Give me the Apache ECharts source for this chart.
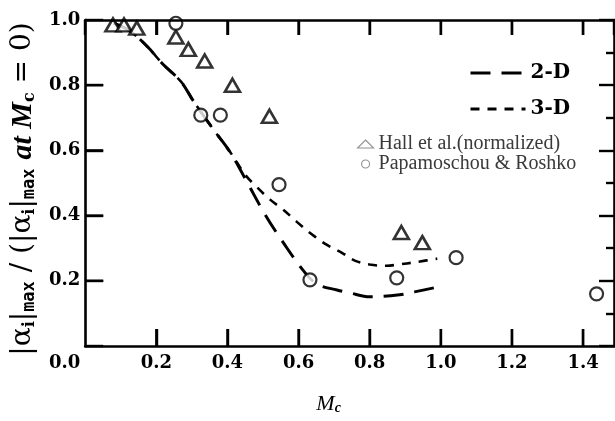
<!DOCTYPE html>
<html><head><meta charset="utf-8">
<script src="https://cdn.jsdelivr.net/npm/echarts@6/dist/echarts.min.js"></script>
<style>html,body{margin:0;padding:0;background:#fff}#c{width:615px;height:421px}</style>
</head><body><div id="c"></div>
<script>
// ---- data ----
const xTicks = [0.2, 0.4, 0.6, 0.8, 1.0, 1.2, 1.4];
const yTicks = [0.2, 0.4, 0.6, 0.8];
const curve2D_M = [0.08, 0.126, 0.176, 0.218, 0.27, 0.305, 0.36, 0.408, 0.456, 0.506, 0.557, 0.618, 0.655, 0.708, 0.744, 0.80, 0.884, 0.926, 0.996];
const curve2D_v = [0.99, 0.966, 0.917, 0.865, 0.81, 0.75, 0.665, 0.594, 0.501, 0.403, 0.317, 0.225, 0.188, 0.172, 0.163, 0.151, 0.157, 0.166, 0.182];
const curve3D_M = [0.08, 0.126, 0.176, 0.218, 0.27, 0.305, 0.36, 0.408, 0.45, 0.484, 0.52, 0.557, 0.596, 0.638, 0.68, 0.722, 0.758, 0.80, 0.848, 0.875, 0.934, 0.99];
const curve3D_v = [0.99, 0.966, 0.917, 0.865, 0.81, 0.75, 0.665, 0.594, 0.525, 0.486, 0.449, 0.418, 0.38, 0.342, 0.31, 0.286, 0.262, 0.25, 0.246, 0.249, 0.258, 0.268];
const hall_M = [0.078, 0.109, 0.145, 0.255, 0.29, 0.336, 0.414, 0.518, 0.889, 0.948];
const hall_v = [0.985, 0.985, 0.975, 0.948, 0.91, 0.874, 0.80, 0.705, 0.348, 0.317];
const pr_M = [0.255, 0.325, 0.38, 0.545, 0.632, 0.876, 1.043, 1.438];
const pr_v = [0.99, 0.708, 0.708, 0.495, 0.203, 0.209, 0.271, 0.16];

const zip = (a, b) => a.map((v, i) => [v, b[i]]);
const chart = echarts.init(document.getElementById('c'), null, {renderer: 'canvas'});
const labelFont = {fontFamily: 'DejaVu Serif', fontWeight: 'bold', fontSize: 18, color: '#000'};
const axisLine = {show: true, onZero: false, lineStyle: {color: '#000', width: 2.6}};
const X_MAX = 1.487;
const Y_MAX = 1.0;
const dash2D = [20, 11];
const dash3D = [9, 8];

const option = {
  backgroundColor: '#fff',
  animation: false,
  color: ['#000', '#000', '#000', '#000'],
  grid: {left: 84, right: 1, top: 20, bottom: 75, containLabel: false},
  legend: [
    {
      data: [
        {name: '2-D', lineStyle: {type: dash2D, width: 3, color: '#000'}},
        {name: '3-D', lineStyle: {type: dash3D, width: 2.8, color: '#000'}}
      ],
      orient: 'vertical', left: 464, top: 58,
      itemWidth: 55, itemHeight: 18, itemGap: 16,
      itemStyle: {color: 'rgba(0,0,0,0)', borderWidth: 0, opacity: 0},
      textStyle: Object.assign({}, labelFont, {fontSize: 20})
    },
    {
      data: ['Hall et al.(normalized)', 'Papamoschou & Roshko'], orient: 'vertical', left: 352, top: 129,
      itemWidth: 16, itemHeight: 8, itemGap: 0,
      itemStyle: {borderColor: '#777', borderWidth: 1.1},
      textStyle: {fontFamily: 'Liberation Serif', fontSize: 20, color: '#3a3a3a', lineHeight: 19}
    }
  ],
  xAxis: [
    {
      type: 'value', min: 0, max: X_MAX, interval: 0.2, position: 'bottom', z: 10,
      axisLine: axisLine,
      axisTick: {show: true, inside: true, length: 17, lineStyle: {color: '#000', width: 2.4}},
      splitLine: {show: false},
      axisLabel: {show: true, margin: 8, showMaxLabel: false, showMinLabel: false,
        formatter: v => v.toFixed(1), ...labelFont},
      name: 'M{s|c}', nameLocation: 'middle', nameGap: 47,
      nameTextStyle: {fontFamily: 'Liberation Serif', fontStyle: 'italic', fontSize: 22, color: '#000', padding: [0, 42, 0, 0],
        rich: {s: {fontFamily: 'Liberation Serif', fontStyle: 'italic', fontWeight: 'bold', fontSize: 14, verticalAlign: 'bottom', padding: [8, 0, 0, 0]}}}
    },
    {
      type: 'value', min: 0, max: X_MAX, interval: 0.2, position: 'top', z: 10,
      axisLine: axisLine, axisTick: {show: true, inside: true, length: 15, lineStyle: {color: '#000', width: 2.4}},
      splitLine: {show: false}, axisLabel: {show: false}
    }
  ],
  yAxis: [
    {
      type: 'value', min: 0, max: Y_MAX, interval: 0.2, position: 'left', z: 10,
      axisLine: axisLine,
      axisTick: {show: true, inside: true, length: 18, lineStyle: {color: '#000', width: 2.4}},
      splitLine: {show: false},
      axisLabel: {show: true, margin: 5,
        formatter: v => (v === 0 ? '{z|0.0}' : v.toFixed(1)), ...labelFont,
        rich: {z: Object.assign({}, labelFont, {padding: [34, 0, 0, 0]})}},
      name: '{t||α}{s|i}{t||}{m|max}{t| / (|α}{s|i}{t||}{m|max}{t| }{i|at M}{s|c}{t| = 0)}',
      nameLocation: 'middle', nameGap: 44, nameRotate: 90,
      nameTextStyle: {color: '#000', padding: [0, 12, 0, 0],
        rich: {
          t: {fontFamily: 'DejaVu Serif', fontSize: 28, color: '#000'},
          i: {fontFamily: 'Liberation Serif', fontStyle: 'italic', fontWeight: 'bold', fontSize: 30, color: '#000'},
          s: {fontFamily: 'DejaVu Serif', fontWeight: 'bold', fontSize: 16, color: '#000', verticalAlign: 'bottom'},
          m: {fontFamily: 'DejaVu Sans Mono', fontWeight: 'bold', fontSize: 17, color: '#000', verticalAlign: 'bottom'}
        }}
    },
    {
      type: 'value', min: 0, max: Y_MAX, interval: 0.2, position: 'right', z: 10,
      axisLine: axisLine,
      axisTick: {show: true, inside: true, length: 15, lineStyle: {color: '#000', width: 2.4}},
      minorTick: {show: true, splitNumber: 2, length: 8, lineStyle: {color: '#000', width: 2.4}},
      splitLine: {show: false}, axisLabel: {show: false}
    }
  ],
  series: [
    {
      name: '2-D', type: 'line', data: zip(curve2D_M, curve2D_v), smooth: 0.35,
      showSymbol: false, symbol: 'none', color: '#000',
      lineStyle: {color: '#000', width: 3, type: dash2D}, z: 2
    },
    {
      name: '3-D', type: 'line', data: zip(curve3D_M, curve3D_v), smooth: 0.35,
      showSymbol: false, symbol: 'none', color: '#000',
      lineStyle: {color: '#000', width: 2.6, type: dash3D}, z: 2
    },
    {
      name: 'Hall et al.(normalized)', type: 'scatter', data: zip(hall_M, hall_v),
      symbol: 'triangle', symbolSize: [15, 13],
      itemStyle: {color: '#fff', borderColor: '#000', borderWidth: 2.6}, z: 3
    },
    {
      name: 'Papamoschou & Roshko', type: 'scatter', data: zip(pr_M, pr_v),
      symbol: 'circle', symbolSize: 13,
      itemStyle: {color: '#fff', borderColor: '#000', borderWidth: 2.2}, z: 3
    }
  ]
};
chart.setOption(option);

// Inward tick marks on the left, bottom and top axes, placed through the chart's own scales
// and drawn on a separate layer on top.
const finder = {xAxisIndex: 0, yAxisIndex: 0};
const tickStyle = {stroke: '#000', lineWidth: 2.4, lineCap: 'butt'};
const tickGraphics = [];
xTicks.forEach(v => {
  const b = chart.convertToPixel(finder, [v, 0]);
  const t = chart.convertToPixel(finder, [v, Y_MAX]);
  tickGraphics.push({type: 'line', zlevel: 1, z: 100, silent: true, shape: {x1: b[0], y1: b[1], x2: b[0], y2: b[1] - 17}, style: tickStyle});
  tickGraphics.push({type: 'line', zlevel: 1, z: 100, silent: true, shape: {x1: t[0], y1: t[1], x2: t[0], y2: t[1] + 15}, style: tickStyle});
});
yTicks.forEach(v => {
  const p = chart.convertToPixel(finder, [0, v]);
  tickGraphics.push({type: 'line', zlevel: 1, z: 100, silent: true, shape: {x1: p[0], y1: p[1], x2: p[0] + 18, y2: p[1]}, style: tickStyle});
});
chart.setOption({graphic: tickGraphics});
</script>
</body></html>
